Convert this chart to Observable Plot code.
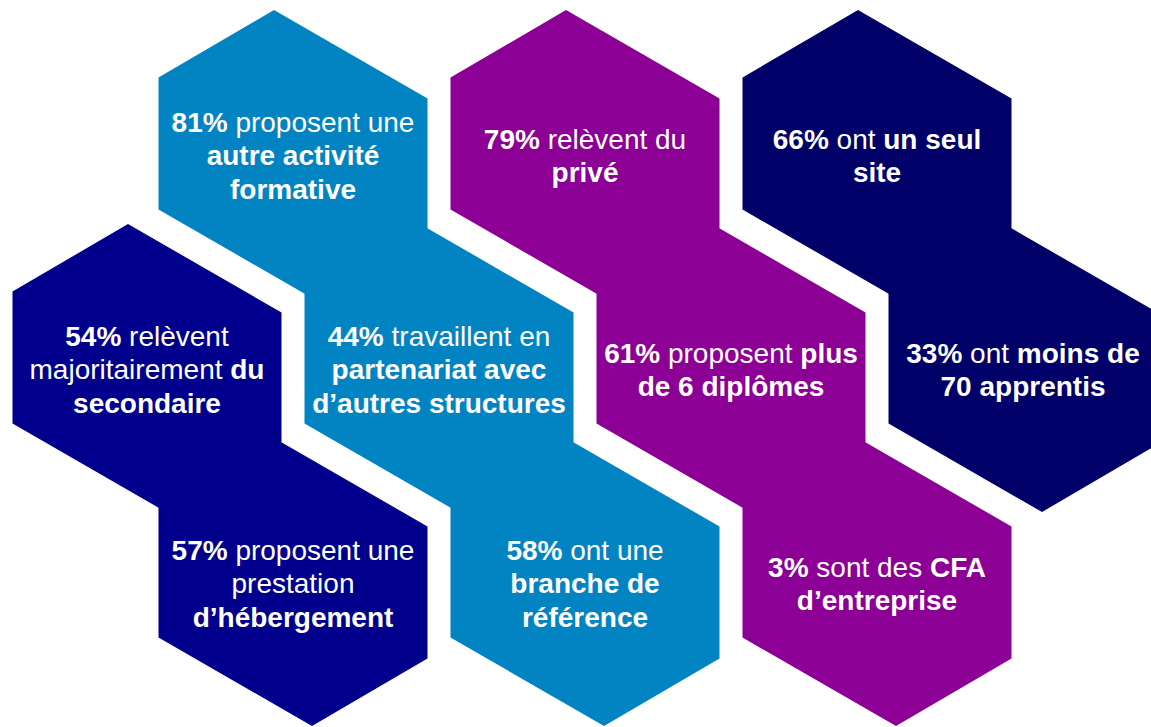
<!DOCTYPE html>
<html>
<head>
<meta charset="utf-8">
<script src="https://cdn.jsdelivr.net/npm/d3@7"></script>
<script src="https://cdn.jsdelivr.net/npm/@observablehq/plot@0.6"></script>
<style>
  html, body { margin: 0; padding: 0; background: #ffffff; }
  #chart svg { display: block; }
</style>
</head>
<body>
<div id="chart"></div>
<script>
// ---- Data ----
// hex position in a staggered grid (doubled column index, row index)
const hexCol   = [0, 2, 4, -1, 1, 3, 5, 0, 2, 4];
const hexRow   = [0, 0, 0, 1, 1, 1, 1, 2, 2, 2];
const hexGroup = ["clair", "violet", "nuit", "bleu", "clair", "violet", "nuit", "bleu", "clair", "violet"];
const pctValues = [81, 79, 66, 54, 44, 61, 33, 57, 58, 3];
// text lines; **...** marks bold runs
const textLines = [
  ["**81%** proposent une", "**autre activité**", "**formative**"],
  ["**79%** relèvent du", "**privé**"],
  ["**66%** ont **un seul**", "**site**"],
  ["**54%** relèvent", "majoritairement **du**", "**secondaire**"],
  ["**44%** travaillent en", "**partenariat avec**", "**d’autres structures**"],
  ["**61%** proposent **plus**", "**de 6 diplômes**"],
  ["**33%** ont **moins de**", "**70 apprentis**"],
  ["**57%** proposent une", "prestation", "**d’hébergement**"],
  ["**58%** ont une", "**branche de**", "**référence**"],
  ["**3%** sont des **CFA**", "**d’entreprise**"]
];
const groupNames = ["clair", "violet", "nuit", "bleu"];
const groupColors = ["#0284C3", "#8C0096", "#000068", "#00008C"];

// ---- Layout (geometry, not data) ----
const W = 1151, H = 727;
const X0 = 292.5, HALF = 146, Y0 = 153.5, ROWSTEP = 214;
const HEX = [[-19, -144], [134.5, -55.5], [134.5, 76.5], [19, 144], [-134.5, 55.5], [-134.5, -76.5]];
const LINE_H = 33.6, TEXT_DY = 2.5;

const hexes = hexCol.map((c, i) => ({
  id: i, group: hexGroup[i], pct: pctValues[i],
  cx: X0 + HALF * c, cy: Y0 + ROWSTEP * hexRow[i]
}));

const vertices = hexes.flatMap(h =>
  [...HEX, HEX[0]].map(([dx, dy], k) => ({id: h.id, group: h.group, k, x: h.cx + dx, y: h.cy + dy}))
);

const lineData = hexes.flatMap(h => {
  const L = textLines[h.id];
  return L.map((t, i) => ({
    text: t, x: h.cx, y: h.cy + TEXT_DY + (i - (L.length - 1) / 2) * LINE_H
  }));
});

const plot = Plot.plot({
  width: W, height: H,
  margin: 0,
  x: {domain: [0, W], range: [0, W], axis: null},
  y: {domain: [0, H], range: [0, H], axis: null},
  color: {domain: groupNames, range: groupColors},
  marks: [
    Plot.line(vertices, {x: "x", y: "y", z: "id", fill: "group", stroke: "none", curve: "linear"}),
    Plot.text(lineData, {
      x: "x", y: "y", text: "text",
      fill: "white", fontSize: 28,
      fontFamily: "'Liberation Sans', Arial, Helvetica, sans-serif",
      textAnchor: "middle", lineAnchor: "middle"
    })
  ]
});

// turn **bold** markers into bold tspans
plot.querySelectorAll('g[aria-label="text"] text').forEach(el => {
  const targets = el.querySelectorAll("tspan").length ? el.querySelectorAll("tspan") : [el];
  targets.forEach(t => {
    const s = t.textContent;
    const parts = s.split(/(\*\*[^*]+\*\*)/).filter(p => p.length);
    t.textContent = "";
    parts.forEach(p => {
      const ts = document.createElementNS("http://www.w3.org/2000/svg", "tspan");
      if (p.startsWith("**")) { ts.setAttribute("font-weight", "bold"); ts.textContent = p.slice(2, -2); }
      else ts.textContent = p;
      t.appendChild(ts);
    });
  });
});

document.getElementById("chart").appendChild(plot);
</script>
</body>
</html>
